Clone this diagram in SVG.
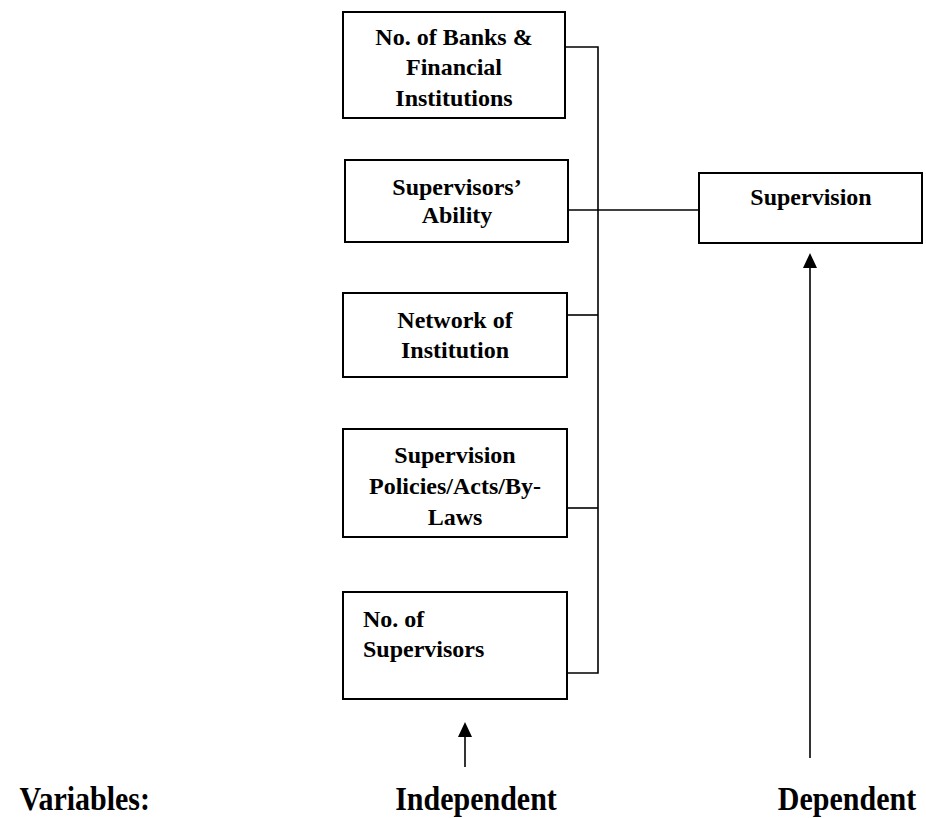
<svg xmlns="http://www.w3.org/2000/svg" width="926" height="818" viewBox="0 0 926 818">
<style>
.box{fill:#fff;stroke:#000;stroke-width:2}
.t{font-family:"Liberation Serif","Times New Roman",serif;font-weight:bold;font-size:24px;fill:#000}
.c{text-anchor:middle}
.big{font-family:"Liberation Serif","Times New Roman",serif;font-weight:bold;font-size:30px;fill:#000}
.ln{stroke:#000;stroke-width:1.6;fill:none}
</style>
<defs>
<clipPath id="clip1"><rect x="343" y="12" width="222" height="95"/></clipPath>
</defs>
<rect width="926" height="818" fill="#fff"/>
<g id="connectors">
<polyline class="ln" points="565,47 598,47 598,673 567,673"/>
<line class="ln" x1="568" y1="210" x2="699" y2="210"/>
<line class="ln" x1="567" y1="315" x2="598" y2="315"/>
<line class="ln" x1="567" y1="508" x2="598" y2="508"/>
<line class="ln" x1="810" y1="758" x2="810" y2="265"/>
<polygon points="810,253 803,268 817,268" fill="#000"/>
<line class="ln" x1="465" y1="767" x2="465" y2="734"/>
<polygon points="465,722 458,737 472,737" fill="#000"/>
</g>
<g id="n1">
<rect class="box" x="343" y="12" width="222" height="106"/>
<g clip-path="url(#clip1)">
<text class="t c" x="454" y="45">No. of Banks &amp;</text>
<text class="t c" x="454" y="75">Financial</text>
<text class="t c" x="454" y="106">Institutions</text>
</g>
</g>
<g id="n2">
<rect class="box" x="345" y="160" width="223" height="82"/>
<text class="t c" x="457" y="195">Supervisors’</text>
<text class="t c" x="457" y="223">Ability</text>
</g>
<g id="n3">
<rect class="box" x="343" y="293" width="224" height="84"/>
<text class="t c" x="455" y="328">Network of</text>
<text class="t c" x="455" y="358">Institution</text>
</g>
<g id="n4">
<rect class="box" x="343" y="429" width="224" height="108"/>
<text class="t c" x="455" y="463">Supervision</text>
<text class="t c" x="455" y="494">Policies/Acts/By-</text>
<text class="t c" x="455" y="525">Laws</text>
</g>
<g id="n5">
<rect class="box" x="343" y="592" width="224" height="107"/>
<text class="t" x="363" y="627">No. of</text>
<text class="t" x="363" y="657">Supervisors</text>
</g>
<g id="n6">
<rect class="box" x="699" y="173" width="223" height="70"/>
<text class="t c" x="811" y="205">Supervision</text>
</g>
<g id="labels">
<text class="big" text-anchor="end" transform="translate(150,810) scale(1,1.15)">Variables:</text>
<text class="big c" transform="translate(476,810) scale(1,1.15)">Independent</text>
<text class="big c" transform="translate(847,810) scale(1,1.15)">Dependent</text>
</g>
</svg>
